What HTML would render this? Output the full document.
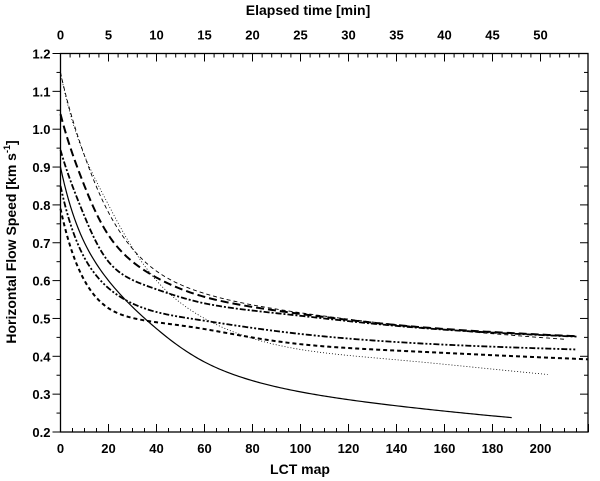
<!DOCTYPE html>
<html><head><meta charset="utf-8"><style>
html,body{margin:0;padding:0;background:#fff;}
svg{display:block;font-family:"Liberation Sans",Arial,sans-serif;font-weight:bold;}
</style></head><body>
<svg id="chart" width="600" height="481" viewBox="0 0 600 481"></svg>
<script>
const xTicks=[0,20,40,60,80,100,120,140,160,180,200];
const topTicks=[0,5,10,15,20,25,30,35,40,45,50];
const yTicks=[0.2,0.3,0.4,0.5,0.6,0.7,0.8,0.9,1.0,1.1,1.2];
const solidX=[0,10,20,40,60,100,150,188];
const solidY=[.9,.7,.6,.473,.385,.306,.262,.238];
const dottedX=[0,10,20,40,60,100,150,203];
const dottedY=[1.15,.93,.8,.6,.5,.418,.385,.352];
const thinDashX=[0,10,20,40,60,100,150,210];
const thinDashY=[1.15,.93,.78,.625,.566,.515,.477,.445];
const longDashX=[0,10,20,40,60,100,150,215];
const longDashY=[1.04,.85,.72,.608,.557,.512,.477,.453];
const dashDotX=[0,10,20,40,60,100,150,215];
const dashDotY=[.945,.77,.65,.577,.54,.507,.475,.452];
const dashDot2X=[0,10,20,40,60,100,150,215];
const dashDot2Y=[.85,.66,.58,.517,.494,.459,.434,.418];
const shortDashX=[0,10,20,40,60,100,150,220];
const shortDashY=[.79,.6,.527,.49,.472,.432,.412,.392];

const L=60.5,R=588,T=53.5,B=432;
const sx=v=>L+v*2.4, sy=v=>T+(1.2-v)*378.5, st=m=>L+m*9.6;
const svg=document.getElementById('chart');const NS='http://www.w3.org/2000/svg';
function el(t,a,txt){const e=document.createElementNS(NS,t);for(const k in a)e.setAttribute(k,a[k]);if(txt!==undefined)e.textContent=txt;svg.appendChild(e);return e;}
let f=el('rect',{x:L,y:T,width:R-L,height:B-T,fill:'none',stroke:'#000','stroke-width':1.3});


for(let v=0;v<=220;v+=5){const maj=v%20===0;const len=maj?8:4;
 let t=el('line',{x1:sx(v),x2:sx(v),y1:B,y2:B-len,stroke:'#000','stroke-width':1});
 
 }
xTicks.forEach(v=>{let t=el('text',{x:sx(v),y:B+21,'text-anchor':'middle','font-size':13},String(v));
 
 });
for(let m=0;m<=54;m++){const len=m%5===0?8:4;
 let t=el('line',{x1:st(m),x2:st(m),y1:T,y2:T+len,stroke:'#000','stroke-width':1});
 
 }
topTicks.forEach(v=>{let t=el('text',{x:st(v),y:T-14,'text-anchor':'middle','font-size':13},String(v));
 
 });
for(let i=0;i<=20;i++){const v=0.2+i*0.05;const len=i%2===0?8:4;
 let a=el('line',{x1:L,x2:L-len,y1:sy(v),y2:sy(v),stroke:'#000','stroke-width':1});
 
 
 let b=el('line',{x1:R,x2:R-len,y1:sy(v),y2:sy(v),stroke:'#000','stroke-width':1});
 
 }
yTicks.forEach(v=>{let t=el('text',{x:L-10,y:sy(v)+5,'text-anchor':'end','font-size':13},v.toFixed(1));
 
 });
let xt=el('text',{x:300,y:474,'text-anchor':'middle','font-size':14},'LCT map');


let tt=el('text',{x:308,y:15,'text-anchor':'middle','font-size':14,'xml:space':'preserve'},'Elapsed time   [min]');


let yt=el('text',{x:0,y:0,'text-anchor':'middle','font-size':14,transform:'translate(16,242) rotate(-90)','xml:space':'preserve'});
yt.innerHTML='Horizontal Flow Speed   [km s<tspan font-size="9" dy="-6">-1</tspan><tspan dy="6">]</tspan>';


// natural cubic spline in u = ln(x+10), sampled
const tf=x=>Math.log(x+10);
function path(xs,ys){const n=xs.length,u=xs.map(tf),h=[];
 for(let i=0;i<n-1;i++)h.push(u[i+1]-u[i]);
 const a=new Array(n).fill(0),b=new Array(n).fill(1),c=new Array(n).fill(0),r=new Array(n).fill(0);
 for(let i=1;i<n-1;i++){a[i]=h[i-1];b[i]=2*(h[i-1]+h[i]);c[i]=h[i];r[i]=6*((ys[i+1]-ys[i])/h[i]-(ys[i]-ys[i-1])/h[i-1]);}
 for(let i=1;i<n;i++){const w=a[i]/b[i-1];b[i]-=w*c[i-1];r[i]-=w*r[i-1];}
 const M=new Array(n);M[n-1]=r[n-1]/b[n-1];for(let i=n-2;i>=0;i--)M[i]=(r[i]-c[i]*M[i+1])/b[i];
 let s='M'+sx(xs[0]).toFixed(2)+','+sy(ys[0]).toFixed(2);
 for(let i=0;i<n-1;i++){const steps=Math.max(3,Math.ceil((xs[i+1]-xs[i])*2.4/2));
  for(let k=1;k<=steps;k++){const x=xs[i]+(xs[i+1]-xs[i])*k/steps,uu=tf(x);
   const A=(u[i+1]-uu)/h[i],Bq=(uu-u[i])/h[i];
   const y=A*ys[i]+Bq*ys[i+1]+((A*A*A-A)*M[i]+(Bq*Bq*Bq-Bq)*M[i+1])*h[i]*h[i]/6;
   s+=' L'+sx(x).toFixed(2)+','+sy(y).toFixed(2);}}
 return s;}
const series=[
 [solidX,solidY,1.2,'','series-solid'],
 [dottedX,dottedY,0.8,'1 2','series-dotted'],
 [thinDashX,thinDashY,0.9,'4 3','series-thin-dash'],
 [longDashX,longDashY,2,'8 4','series-long-dash'],
 [dashDotX,dashDotY,1.8,'6 2 2 2','series-dash-dot'],
 [dashDot2X,dashDot2Y,1.8,'6 2 2 2 2 2','series-dash-dot-dot'],
 [shortDashX,shortDashY,2,'4 3','series-short-dash']];
series.forEach(s=>{const a={d:path(s[0],s[1]),fill:'none',stroke:'#000','stroke-width':s[2]};if(s[3])a['stroke-dasharray']=s[3];
 let p=el('path',a);
 
 });
</script>
</body></html>
